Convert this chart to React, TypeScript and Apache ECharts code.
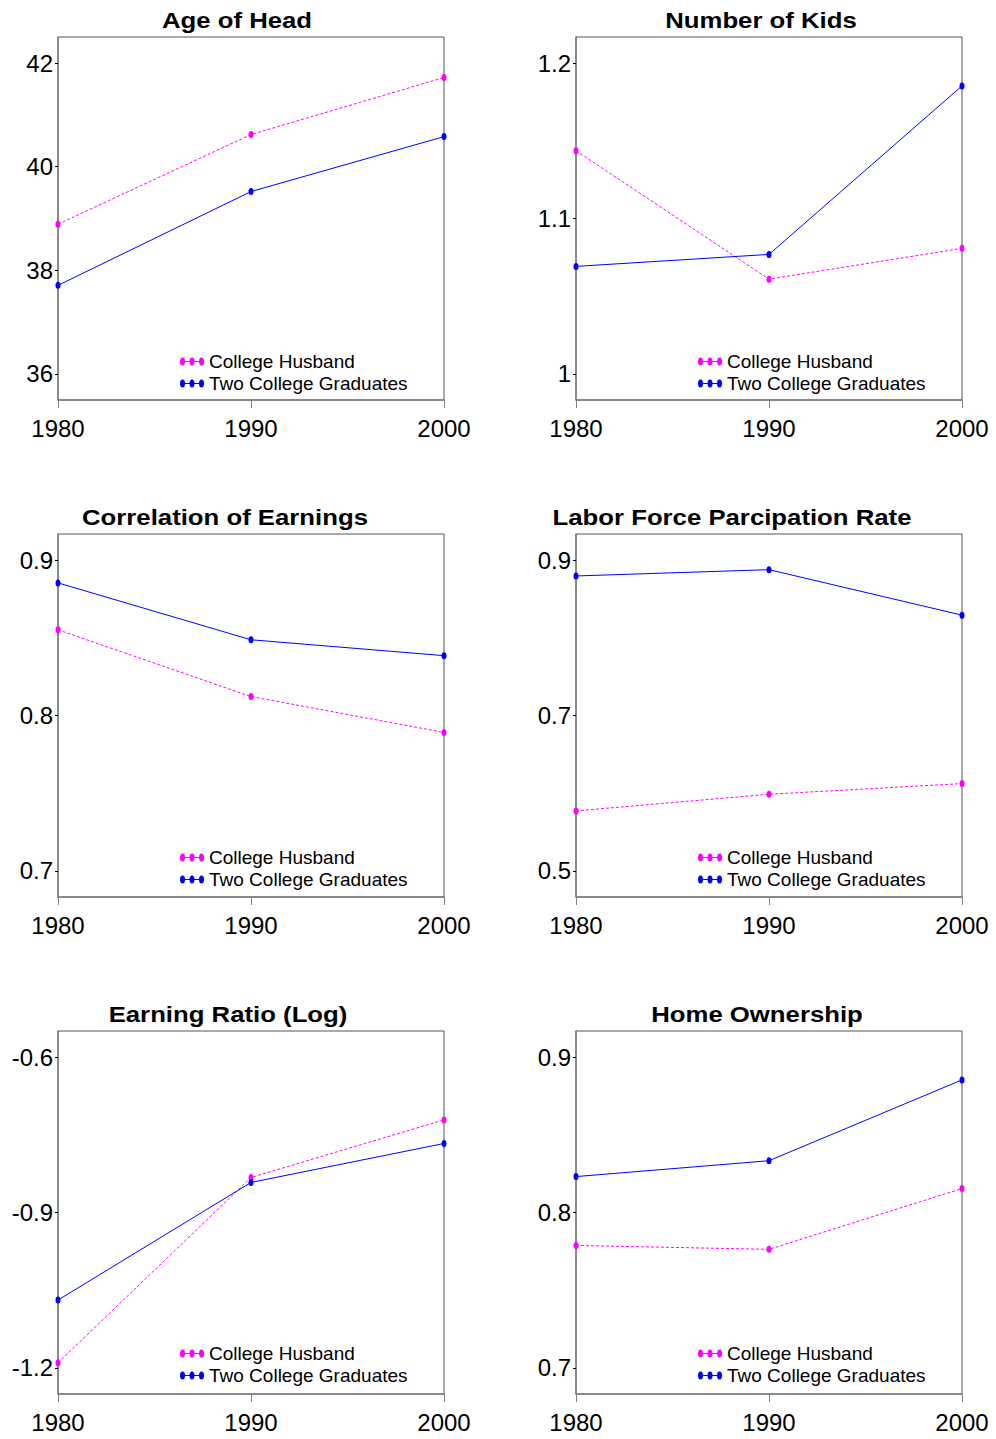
import React, { useEffect, useRef } from "react";
import * as echarts from "echarts";

const years = ["1980", "1990", "2000"];
const seriesNames = ["College Husband", "Two College Graduates"];
const titles = [
  "Age of Head",
  "Number of Kids",
  "Correlation of Earnings",
  "Labor Force Parcipation Rate",
  "Earning Ratio (Log)",
  "Home Ownership",
];

const ageCH = [38.89, 40.62, 41.72];
const ageTCG = [37.71, 39.52, 40.58];
const kidsCH = [1.1436, 1.061, 1.0808];
const kidsTCG = [1.0692, 1.0769, 1.1853];
const corrCH = [0.8551, 0.8122, 0.7891];
const corrTCG = [0.8853, 0.8487, 0.8385];
const laborCH = [0.5773, 0.5987, 0.6124];
const laborTCG = [0.8795, 0.8876, 0.8291];
const earnCH = [-1.19, -0.8325, -0.7213];
const earnTCG = [-1.069, -0.842, -0.7668];
const homeCH = [0.7788, 0.7763, 0.8154];
const homeTCG = [0.8231, 0.8333, 0.8853];

const ageTicks = [36, 38, 40, 42];
const kidsTicks = [1, 1.1, 1.2];
const corrTicks = [0.7, 0.8, 0.9];
const laborTicks = [0.5, 0.7, 0.9];
const earnTicks = [-1.2, -0.9, -0.6];
const homeTicks = [0.7, 0.8, 0.9];

const panelCH = [ageCH, kidsCH, corrCH, laborCH, earnCH, homeCH];
const panelTCG = [ageTCG, kidsTCG, corrTCG, laborTCG, earnTCG, homeTCG];
const panelTicks = [ageTicks, kidsTicks, corrTicks, laborTicks, earnTicks, homeTicks];

const FONT = '"Liberation Sans", Arial, sans-serif';
const MAGENTA = "#ff00ff";
const BLUE = "#0000ff";
const AXIS_GRAY = "#7f7f7f";

const gridLefts = [58, 576];
const gridTops = [37, 534, 1031];
const GRID_W = 386;
const GRID_H = 363;
const titleCenters = [
  [237, 20],
  [761, 20],
  [225, 517],
  [732, 517],
  [228, 1014],
  [757, 1014],
];
const legendPos = [
  [180, 352],
  [698, 352],
  [180, 848],
  [698, 848],
  [180, 1344],
  [698, 1344],
];

const markerPath = "path://M0,3.5a2,3.5 0 1,1 4,0a2,3.5 0 1,1 -4,0z";
const legendIcon =
  "path://M0,3.5h24v1H0z M0,4a2.5,4 0 1,1 5,0a2.5,4 0 1,1 -5,0z M9.5,4a2.5,4 0 1,1 5,0a2.5,4 0 1,1 -5,0z M19,4a2.5,4 0 1,1 5,0a2.5,4 0 1,1 -5,0z";

function buildOption() {
  const grid: any[] = [];
  const xAxis: any[] = [];
  const yAxis: any[] = [];
  const series: any[] = [];
  const legend: any[] = [];
  const graphic: any[] = [];

  for (let i = 0; i < 6; i++) {
    const col = i % 2;
    const row = Math.floor(i / 2);
    const ticks = panelTicks[i];
    const span = ticks[ticks.length - 1] - ticks[0];
    const pad = span * 0.0837;
    grid.push({
      left: gridLefts[col],
      top: gridTops[row],
      width: GRID_W,
      height: GRID_H,
      show: true,
      borderColor: "#555",
      borderWidth: 1,
      backgroundColor: "transparent",
      containLabel: false,
    });
    xAxis.push({
      type: "category",
      gridIndex: i,
      data: years,
      boundaryGap: false,
      axisLine: { show: true, lineStyle: { color: AXIS_GRAY, width: 1.5 } },
      axisTick: { show: true, length: 8, alignWithLabel: true, lineStyle: { color: AXIS_GRAY, width: 1 } },
      axisLabel: { fontSize: 24, color: "#000", fontFamily: FONT, margin: 16, interval: 0 },
      splitLine: { show: false },
    });
    yAxis.push({
      type: "value",
      gridIndex: i,
      min: ticks[0] - pad,
      max: ticks[ticks.length - 1] + pad,
      axisLine: { show: true, lineStyle: { color: AXIS_GRAY, width: 1.5 } },
      axisTick: { show: true, length: 3, customValues: ticks, lineStyle: { color: "#000", width: 1 } },
      axisLabel: {
        fontSize: 24,
        color: "#000",
        fontFamily: FONT,
        margin: 5,
        customValues: ticks,
        formatter: (v: number) => String(Math.round(v * 1000) / 1000),
      },
      splitLine: { show: false },
    });
    series.push({
      type: "line",
      name: seriesNames[0],
      xAxisIndex: i,
      yAxisIndex: i,
      data: panelCH[i],
      symbol: markerPath,
      symbolSize: [5, 7],
      symbolKeepAspect: false,
      showAllSymbol: true,
      itemStyle: { color: MAGENTA, borderWidth: 0 },
      lineStyle: { color: MAGENTA, width: 1, type: [3, 2] },
      z: 2,
    });
    series.push({
      type: "line",
      name: seriesNames[1],
      xAxisIndex: i,
      yAxisIndex: i,
      data: panelTCG[i],
      symbol: markerPath,
      symbolSize: [5, 7],
      symbolKeepAspect: false,
      showAllSymbol: true,
      itemStyle: { color: BLUE, borderWidth: 0 },
      lineStyle: { color: BLUE, width: 1, type: "solid" },
      z: 3,
    });
    legend.push({
      orient: "vertical",
      left: legendPos[i][0],
      top: legendPos[i][1],
      padding: 0,
      itemWidth: 24,
      itemHeight: 8,
      itemGap: 3,
      selectedMode: false,
      icon: legendIcon,
      itemStyle: { borderWidth: 0 },
      textStyle: { fontSize: 19, lineHeight: 19, color: "#000", fontFamily: FONT },
      data: seriesNames.map((n) => ({ name: n, icon: legendIcon })),
    });
    graphic.push({
      type: "text",
      x: titleCenters[i][0],
      y: titleCenters[i][1],
      scaleX: 1.17,
      style: {
        text: titles[i],
        fontSize: 22,
        fontWeight: "bold",
        fontFamily: FONT,
        fill: "#000",
        align: "center",
        verticalAlign: "middle",
      },
    });
  }

  return {
    animation: false,
    backgroundColor: "#ffffff",
    grid,
    xAxis,
    yAxis,
    series,
    legend,
    graphic,
  };
}

export default function App() {
  const ref = useRef<HTMLDivElement>(null);
  useEffect(() => {
    if (!ref.current) return;
    const chart = echarts.init(ref.current, undefined, { renderer: "svg" });
    chart.setOption(buildOption() as any);
    return () => chart.dispose();
  }, []);
  return (
    <div
      ref={ref}
      style={{ position: "absolute", left: 0, top: 0, width: 996, height: 1439, background: "#fff" }}
    />
  );
}
